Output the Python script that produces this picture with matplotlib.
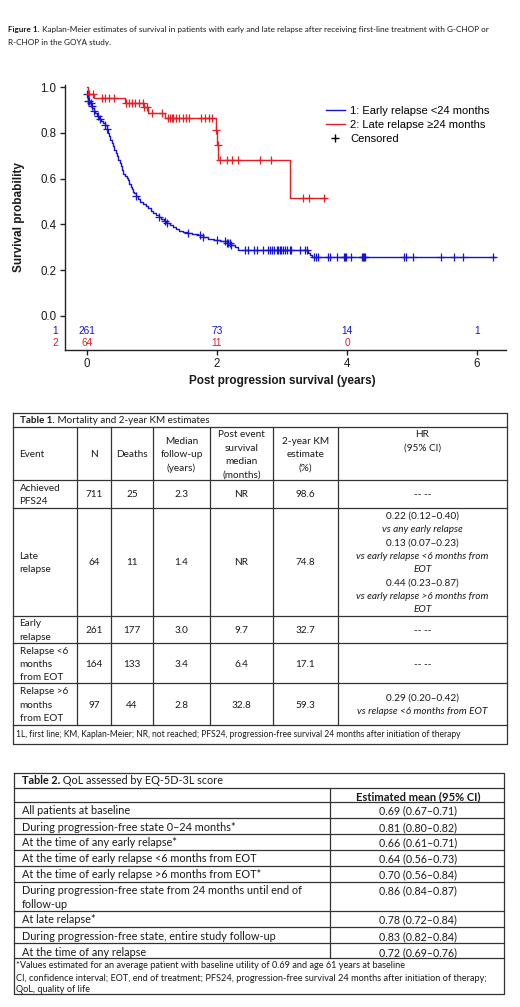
import numpy as np
import matplotlib.pyplot as plt
from matplotlib.lines import Line2D

plt.rcParams['font.family'] = ['Liberation Sans', 'DejaVu Sans']

BLUE = '#1414d2'
RED = '#e31e24'
INK = '#1a1a1a'
TFONT = ['Lato', 'DejaVu Sans']

# KM steps (time in years, survival probability)
early_t = [0.00, 0.01, 0.02, 0.04, 0.06, 0.08, 0.10, 0.13, 0.16, 0.19, 0.22, 0.25,
           0.28, 0.30, 0.32, 0.34, 0.36, 0.38, 0.40, 0.42, 0.44, 0.46, 0.48, 0.50,
           0.52, 0.54, 0.56, 0.58, 0.61, 0.63, 0.65, 0.67, 0.69, 0.71, 0.73, 0.76,
           0.79, 0.82, 0.86, 0.90, 0.94, 0.98, 1.02, 1.06, 1.10, 1.14, 1.18, 1.22,
           1.27, 1.32, 1.37, 1.42, 1.48, 1.54, 1.62, 1.70, 1.78, 1.86, 1.95, 2.05,
           2.15, 2.22, 2.27, 2.32, 3.40, 3.43, 3.46]
early_s = [0.970, 0.955, 0.940, 0.930, 0.918, 0.908, 0.895, 0.885, 0.873, 0.862, 0.853, 0.843,
           0.832, 0.818, 0.800, 0.785, 0.770, 0.757, 0.742, 0.727, 0.712, 0.697, 0.683, 0.668,
           0.653, 0.638, 0.622, 0.610, 0.603, 0.592, 0.578, 0.565, 0.553, 0.543, 0.535, 0.525,
           0.512, 0.500, 0.490, 0.480, 0.470, 0.458, 0.450, 0.440, 0.432, 0.423, 0.413, 0.405,
           0.398, 0.390, 0.381, 0.373, 0.366, 0.361, 0.358, 0.352, 0.343, 0.337, 0.333, 0.327,
           0.318, 0.310, 0.300, 0.288, 0.277, 0.266, 0.259]
early_cens = [0.0, 0.02, 0.035, 0.056, 0.07, 0.1, 0.17, 0.2, 0.28, 0.3, 0.76, 1.1, 1.2, 1.23,
              1.56, 1.74, 1.79, 2.0, 2.13, 2.15, 2.17, 2.2, 2.22, 2.43, 2.48, 2.57, 2.61, 2.70,
              2.79, 2.82, 2.84, 2.87, 2.92, 2.94, 2.97, 2.99, 3.02, 3.05, 3.07, 3.12, 3.14,
              3.27, 3.35, 3.39, 3.49, 3.52, 3.55, 3.71, 3.74, 3.84, 3.96, 3.97, 3.99, 4.06,
              4.23, 4.24, 4.26, 4.27, 4.87, 4.91, 5.01, 5.45, 5.65, 5.79, 6.25]
early_last = 6.28

late_t = [0.00, 0.01, 0.10, 0.58, 0.87, 0.94, 1.20, 1.985, 2.00, 2.02, 3.12]
late_s = [1.000, 0.968, 0.953, 0.932, 0.914, 0.888, 0.864, 0.812, 0.747, 0.681, 0.514]
late_cens = [0.03, 0.09, 0.23, 0.28, 0.34, 0.42, 0.60, 0.64, 0.69, 0.74, 0.80, 0.86, 0.88,
             0.92, 1.0, 1.15, 1.24, 1.28, 1.30, 1.33, 1.37, 1.42, 1.47, 1.52, 1.57, 1.76,
             1.82, 1.88, 1.93, 1.99, 2.01, 2.05, 2.15, 2.23, 2.33, 2.66, 2.83, 3.33, 3.41, 3.65]
late_last = 3.66

risk_times = [0, 2, 4, 6]
risk_early = ['261', '73', '14', '1']
risk_late = ['64', '11', '0', '']
legend_labels = ['1: Early relapse <24 months', '2: Late relapse \u226524 months', 'Censored']

caption = [('Figure 1.', ' Kaplan-Meier estimates of survival in patients with early and late relapse after '
            'receiving first-line treatment with G-CHOP or'), ('', 'R-CHOP in the GOYA study.')]

# Table 1
t1_title = ('Table 1.', ' Mortality and 2-year KM estimates')
t1_header = ['Event', 'N', 'Deaths', 'Median\nfollow-up\n(years)', 'Post event\nsurvival\nmedian\n(months)',
             '2-year KM\nestimate\n(%)', 'HR\n(95% CI)']
t1_event = ['Achieved\nPFS24', 'Late\nrelapse', 'Early\nrelapse', 'Relapse <6\nmonths\nfrom EOT',
            'Relapse >6\nmonths\nfrom EOT']
t1_n = ['711', '64', '261', '164', '97']
t1_deaths = ['25', '11', '177', '133', '44']
t1_followup = ['2.3', '1.4', '3.0', '3.4', '2.8']
t1_median = ['NR', 'NR', '9.7', '6.4', '32.8']
t1_km = ['98.6', '74.8', '32.7', '17.1', '59.3']
t1_hr = ['-- --',
         '0.22 (0.12\u20130.40)\nvs any early relapse\n0.13 (0.07\u20130.23)\nvs early relapse <6 months from\nEOT\n'
         '0.44 (0.23\u20130.87)\nvs early relapse >6 months from\nEOT',
         '-- --', '-- --',
         '0.29 (0.20\u20130.42)\nvs relapse <6 months from EOT']
t1_note = ('1L, first line; KM, Kaplan-Meier; NR, not reached; PFS24, progression-free survival 24 months '
           'after initiation of therapy')

# Table 2
t2_title = ('Table 2.', ' QoL assessed by EQ-5D-3L score')
t2_header = 'Estimated mean (95% CI)'
t2_labels = ['All patients at baseline', 'During progression-free state 0\u201324 months*',
             'At the time of any early relapse*', 'At the time of early relapse <6 months from EOT',
             'At the time of early relapse >6 months from EOT*',
             'During progression-free state from 24 months until end of\nfollow-up',
             'At late relapse*', 'During progression-free state, entire study follow-up',
             'At the time of any relapse']
t2_values = ['0.69 (0.67\u20130.71)', '0.81 (0.80\u20130.82)', '0.66 (0.61\u20130.71)', '0.64 (0.56\u20130.73)',
             '0.70 (0.56\u20130.84)', '0.86 (0.84\u20130.87)', '0.78 (0.72\u20130.84)', '0.83 (0.82\u20130.84)',
             '0.72 (0.69\u20130.76)']
t2_notes = ['*Values estimated for an average patient with baseline utility of 0.69 and age 61 years at baseline',
            'CI, confidence interval; EOT, end of treatment; PFS24, progression-free survival 24 months '
            'after initiation of therapy;',
            'QoL, quality of life']


def surv_at(t, s, x):
    idx = np.searchsorted(t, x, side='right') - 1
    return np.asarray(s)[idx]


W, H = 520, 1007
fig = plt.figure(figsize=(W / 100, H / 100), dpi=100)
ax0 = fig.add_axes([0, 0, 1, 1])
ax0.set_xlim(0, W)
ax0.set_ylim(H, 0)
ax0.axis('off')
renderer = fig.canvas.get_renderer()


def rich(x, y, parts, size, **kw):
    # bold lead-in followed by normal text on one line
    for s, w in zip(parts, ['bold', 'normal']):
        if not s:
            continue
        t = ax0.text(x, y, s, fontsize=size, fontweight=w, family=TFONT, color=INK,
                     va='center', **kw)
        x += t.get_window_extent(renderer).width


def lines(x, yc, text, size, ha='center', step=13.3, top=None, italic_vs=False):
    parts = text.split('\n')
    y0 = yc - (len(parts) - 1) / 2 * step if top is None else top
    for i, p in enumerate(parts):
        style = 'italic' if italic_vs and not (p[0].isdigit() or p.startswith('--')) else 'normal'
        ax0.text(x, y0 + i * step, p, fontsize=size, ha=ha, va='center', family=TFONT,
                 color=INK, style=style)


# caption
for i, parts in enumerate(caption):
    rich(8, 29.5 + i * 13.3, parts, 5.9)

# ---- KM plot ----
ax = fig.add_axes([65 / W, 1 - 350 / H, (506 - 65) / W, (350 - 84.7) / H])
ax.set_xlim(-22 / 65, 419 / 65)
ax.set_ylim(-34 / 229, 231.3 / 229)
for t, s, c, last in [(early_t, early_s, early_cens, early_last), (late_t, late_s, late_cens, late_last)]:
    col = BLUE if t is early_t else RED
    ax.step(list(t) + [last], list(s) + [s[-1]], where='post', color=col, lw=1.0)
    ax.plot(c, surv_at(t, s, c), ls='none', marker='+', ms=5.5, mew=0.9, color=col)

ax.spines['top'].set_visible(False)
ax.spines['right'].set_visible(False)
for sp in ['left', 'bottom']:
    ax.spines[sp].set_linewidth(1.0)
    ax.spines[sp].set_color('#222222')
ax.set_yticks(np.arange(0, 1.01, 0.2))
ax.set_yticklabels(['%.1f' % v for v in np.arange(0, 1.01, 0.2)])
ax.set_xticks(risk_times)
ax.tick_params(length=3.5, width=1.0, pad=2.5, labelsize=8.3, color='#222222', labelcolor=INK)
ax.set_ylabel('Survival probability', fontsize=8.5, fontweight='bold', color=INK)
ax.yaxis.set_label_coords(-0.091, 0.5)
ax.set_xlabel('Post progression survival (years)', fontsize=8.5, fontweight='bold', color=INK)
ax.xaxis.set_label_coords(0.492, -0.094)

for x, a, b in zip(risk_times, risk_early, risk_late):
    ax.text(x, -0.066, a, color=BLUE, ha='center', va='center', fontsize=7.3)
    ax.text(x, -0.118, b, color=RED, ha='center', va='center', fontsize=7.3)
ax.text(-32 / 65, -0.066, '1', color=BLUE, ha='center', va='center', fontsize=7.3)
ax.text(-32 / 65, -0.118, '2', color=RED, ha='center', va='center', fontsize=7.3)

handles = [Line2D([], [], color=BLUE, lw=1.0), Line2D([], [], color=RED, lw=1.0),
           Line2D([], [], color='black', marker='+', ls='none', ms=6, mew=1.0)]
ax.legend(handles, legend_labels, loc='upper left', bbox_to_anchor=(326 / W, 1 - 105.5 / H),
          bbox_transform=fig.transFigure, frameon=False, borderpad=0, borderaxespad=0,
          handlelength=1.7, handletextpad=0.45, labelspacing=0.38, fontsize=8)

# ---- Table 1 ----
edge = '#333333'
c1 = [13, 77, 111, 153, 210, 273, 338, 507]
r1 = [413, 427, 480, 507.7, 616, 643.3, 683.3, 725, 744]
ax0.plot([c1[0], c1[-1], c1[-1], c1[0], c1[0]], [r1[0], r1[0], r1[-1], r1[-1], r1[0]], color=edge, lw=0.9)
for y in r1[1:-1]:
    ax0.plot([c1[0], c1[-1]], [y, y], color=edge, lw=0.9)
for x in c1[1:-1]:
    ax0.plot([x, x], [r1[1], r1[-2]], color=edge, lw=0.9)
rich(20, 420.5, t1_title, 7.15)
cx = [(a + b) / 2 for a, b in zip(c1[:-1], c1[1:])]
hc = (r1[1] + r1[2]) / 2 + 1.3
fs1 = 7.2
for j, h in enumerate(t1_header):
    if j == 0:
        lines(19.5, hc, h, fs1, ha='left')
    elif j == len(t1_header) - 1:
        lines(cx[j], None, h, fs1, top=hc - 1.5 * 13.3)
    else:
        lines(cx[j], hc, h, fs1)
cols = [t1_n, t1_deaths, t1_followup, t1_median, t1_km]
for i in range(len(t1_event)):
    yc = (r1[i + 2] + r1[i + 3]) / 2 + 1
    lines(19.5, yc, t1_event[i], fs1, ha='left')
    for j, col in enumerate(cols):
        lines(cx[j + 1], yc, col[i], fs1)
    lines(cx[-1], yc, t1_hr[i], fs1, italic_vs=True)
ax0.text(16, (r1[-2] + r1[-1]) / 2, t1_note, fontsize=6.15, family=TFONT, color=INK, va='center')

# ---- Table 2 ----
c2 = [14, 330, 504]
r2 = [772.7, 788.3, 801.7, 818.3, 834, 850, 865.7, 881.7, 910.7, 927.3, 943.3, 958.3, 994.3]
ax0.plot([c2[0], c2[-1], c2[-1], c2[0], c2[0]], [r2[0], r2[0], r2[-1], r2[-1], r2[0]], color=edge, lw=0.9)
for y in r2[1:-1]:
    ax0.plot([c2[0], c2[-1]], [y, y], color=edge, lw=0.9)
ax0.plot([c2[1], c2[1]], [r2[1], r2[-2]], color=edge, lw=0.9)
rich(21.5, 780.7, t2_title, 7.8)
ax0.text((c2[1] + c2[2]) / 2 + 1.5, 796.5, t2_header, fontsize=8.0, fontweight='bold', family=TFONT,
         color=INK, ha='center', va='center')
fs2 = 7.85
for i, (lab, val) in enumerate(zip(t2_labels, t2_values)):
    top = r2[i + 2] + 9
    lines(21.5, None, lab, fs2, ha='left', top=top, step=13.5)
    lines((c2[1] + c2[2]) / 2 + 1, None, val, 7.7, top=top, step=13.5)
for y, note in zip([965.5, 978.5, 989.5], t2_notes):
    ax0.text(16, y, note, fontsize=6.6, family=TFONT, color=INK, va='center')

fig.savefig('out.png', dpi=100, facecolor='white')
